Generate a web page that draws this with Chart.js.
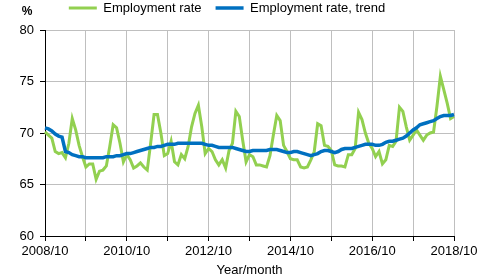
<!DOCTYPE html>
<html>
<head>
<meta charset="utf-8">
<script src="https://cdn.jsdelivr.net/npm/chart.js@4.4.1/dist/chart.umd.min.js"></script>
<style>
  body { margin: 0; background: #fff; }
  #wrap { width: 494px; height: 278px; }
</style>
</head>
<body>
<div id="wrap"><canvas id="empChart" width="494" height="278"></canvas></div>
<script>
// monthly values 2008/10 .. 2018/10
const employmentRate = [
  70.1, 69.8, 69.5, 68.2, 68.0, 68.1, 67.6, 69.0, 71.4, 70.3, 68.8, 67.7,
  66.7, 67.0, 67.0, 65.5, 66.3, 66.4, 66.8, 68.7, 70.8, 70.5, 69.0, 67.2,
  67.9, 67.4, 66.6, 66.8, 67.1, 66.7, 66.4, 69.0, 71.8, 71.8, 70.0, 67.8,
  68.0, 69.2, 67.2, 66.9, 67.9, 67.5, 68.7, 70.6, 71.9, 72.7, 70.6, 68.0,
  68.5, 68.2, 67.4, 66.9, 67.4, 66.6, 68.3, 69.0, 72.1, 71.6, 69.3, 67.2,
  67.9, 67.7, 66.9, 66.9, 66.8, 66.7, 67.8, 69.8, 71.7, 71.2, 68.8, 68.2,
  67.5, 67.4, 67.4, 66.7, 66.6, 66.7, 67.4, 68.2, 70.9, 70.7, 68.8, 68.7,
  68.3, 66.9, 66.8, 66.8, 66.7, 67.9, 67.9, 68.5, 72.0, 71.3, 70.0, 69.0,
  68.5, 67.7, 68.2, 67.0, 67.4, 68.8, 68.7, 69.2, 72.5, 72.1, 70.6, 69.3,
  69.8, 70.3, 69.8, 69.3, 69.8, 70.0, 70.1, 72.6, 75.5, 74.2, 72.9, 71.4,
  71.6
];
const employmentTrend = [
  70.5, 70.4, 70.2, 69.9, 69.7, 69.6, 68.2, 68.1, 67.9, 67.8, 67.7, 67.7,
  67.6, 67.6, 67.6, 67.6, 67.6, 67.6, 67.7, 67.7, 67.7, 67.8, 67.8, 67.9,
  68.0, 68.0, 68.1, 68.2, 68.3, 68.4, 68.5, 68.6, 68.6, 68.7, 68.7, 68.8,
  68.9, 68.9, 68.9, 69.0, 69.0, 69.0, 69.0, 69.0, 69.0, 69.0, 69.0, 68.9,
  68.8, 68.8, 68.7, 68.6, 68.6, 68.6, 68.6, 68.6, 68.5, 68.4, 68.3, 68.2,
  68.2, 68.3, 68.3, 68.3, 68.3, 68.3, 68.4, 68.4, 68.4, 68.3, 68.2, 68.1,
  68.1, 68.2, 68.2, 68.1, 68.0, 67.9, 67.8, 67.9, 68.0, 68.2, 68.3, 68.3,
  68.2, 68.1, 68.2, 68.4, 68.5, 68.5, 68.5, 68.6, 68.7, 68.8, 68.9, 68.9,
  68.9, 68.8, 68.8, 68.9, 69.1, 69.2, 69.2, 69.3, 69.4, 69.5, 69.7, 70.0,
  70.3, 70.5, 70.8, 70.9, 71.0, 71.1, 71.2, 71.4, 71.6, 71.7, 71.7, 71.7,
  71.8
];

// category labels yyyy/mm
const months = [];
for (let i = 0; i <= 120; i++) {
  const m = (9 + i) % 12 + 1;
  const y = 2008 + Math.floor((9 + i) / 12);
  months.push(y + '/' + (m < 10 ? '0' + m : m));
}

const yTicks = [60, 65, 70, 75, 80];
const FONT = '"Liberation Sans", Arial, sans-serif';

Chart.defaults.font.family = FONT;
Chart.defaults.font.size = 13;
Chart.defaults.color = '#000';

// legend has no afterFit hook, so add the gap under it by wrapping fit()
const legendGap = {
  id: 'legendGap',
  beforeInit(chart) {
    const fit = chart.legend.fit;
    chart.legend.fit = function () {
      fit.call(this);
      this.height += 5.5;
    };
  }
};

const percentLabel = {
  id: 'percentLabel',
  afterDraw(chart) {
    const c = chart.ctx;
    c.save();
    c.font = 'bold 12px ' + FONT;
    c.fillStyle = '#000';
    c.textAlign = 'center';
    c.textBaseline = 'middle';
    c.fillText('%', 27, 11.5);
    c.restore();
  }
};

const ctx = document.getElementById('empChart');
new Chart(ctx, {
  type: 'line',
  data: {
    labels: months,
    datasets: [{
      label: 'Employment rate',
      data: employmentRate,
      borderColor: '#92D050',
      backgroundColor: '#92D050',
      borderWidth: 3,
      pointRadius: 0,
      tension: 0,
      order: 1
    }, {
      label: 'Employment rate, trend',
      data: employmentTrend,
      borderColor: '#0070C0',
      backgroundColor: '#0070C0',
      borderWidth: 3.5,
      pointRadius: 0,
      tension: 0,
      order: 0
    }]
  },
  options: {
    responsive: false,
    animation: false,
    layout: { padding: { top: -12.5, left: 0, right: 40, bottom: 0 } },
    plugins: {
      tooltip: { enabled: false },
      legend: {
        labels: {
          usePointStyle: true,
          pointStyle: 'line',
          pointStyleWidth: 28,
          padding: 14,
          color: '#000',
          sort: (a, b) => a.datasetIndex - b.datasetIndex
        }
      }
    },
    scales: {
      x: {
        afterFit: (scale) => { scale.height = 42; },
        // one tick (grid line + tick mark) per year, label every 2nd
        afterBuildTicks: (scale) => {
          scale.ticks = months.map((m, i) => ({ value: i })).filter(t => t.value % 12 === 0);
        },
        border: { color: '#000', width: 1 },
        grid: { color: '#bfbfbf', tickColor: '#000', tickLength: 5 },
        ticks: {
          autoSkip: false,
          maxRotation: 0,
          minRotation: 0,
          padding: 3,
          callback: (v) => v % 24 === 0 ? months[v] : ''
        },
        title: {
          display: true,
          text: 'Year/month',
          padding: { top: 0, bottom: 0 }
        }
      },
      y: {
        min: 60,
        max: 80,
        afterFit: (scale) => { scale.width = 45; },
        afterBuildTicks: (scale) => { scale.ticks = yTicks.map(v => ({ value: v })); },
        border: { color: '#000', width: 1 },
        grid: { color: '#bfbfbf', tickColor: '#000', tickLength: 5 },
        ticks: { padding: 6 }
      }
    }
  },
  plugins: [legendGap, percentLabel]
});
</script>
</body>
</html>
